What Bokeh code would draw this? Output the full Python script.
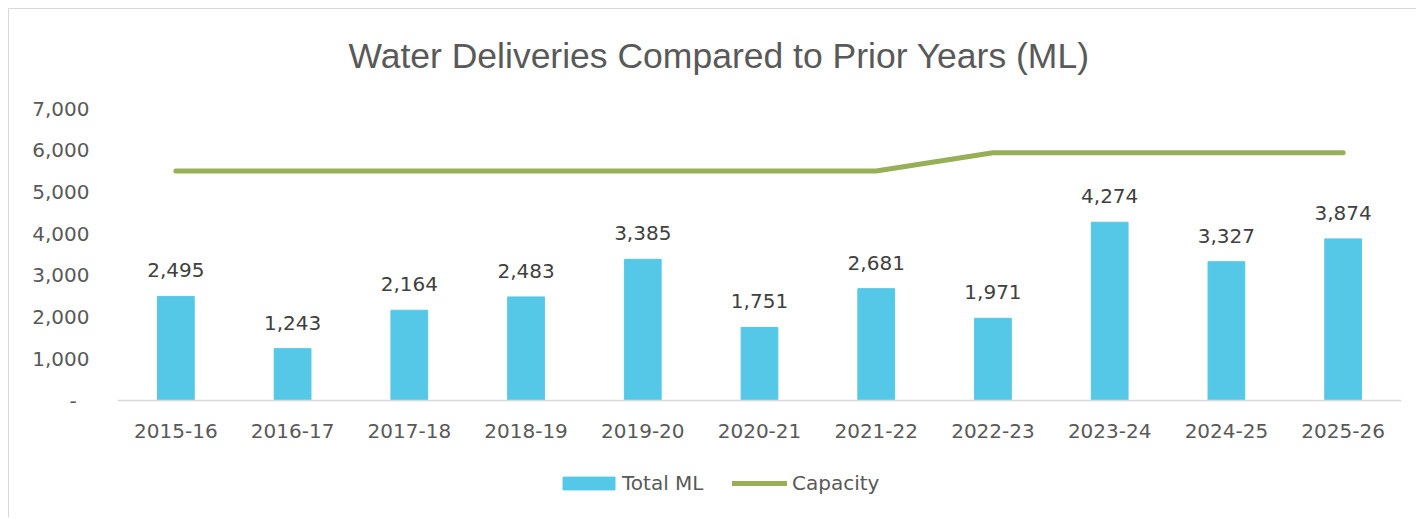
from bokeh.plotting import figure
from bokeh.models import (FactorRange, Range1d, FixedTicker, CustomJSTickFormatter,
                          Legend, LegendItem, Span)
from bokeh.core.properties import value
from bokeh.embed import file_html
from bokeh.resources import INLINE

years = ["2015-16", "2016-17", "2017-18", "2018-19", "2019-20", "2020-21",
         "2021-22", "2022-23", "2023-24", "2024-25", "2025-26"]
total_ml = [2495, 1243, 2164, 2483, 3385, 1751, 2681, 1971, 4274, 3327, 3874]
capacity = [5500, 5500, 5500, 5500, 5500, 5500, 5500, 5940, 5940, 5940, 5940]
total_labels = ["2,495", "1,243", "2,164", "2,483", "3,385", "1,751", "2,681",
                "1,971", "4,274", "3,327", "3,874"]
y_ticks = [0, 1000, 2000, 3000, 4000, 5000, 6000, 7000]

FONT = "DejaVu Sans"
TFONT = "Liberation Sans"
GREY = "#595959"

# frame spans from just below the title down to the legend row so that the
# legend can sit inside it; the value axis (0..7000) occupies the middle part
p = figure(x_range=FactorRange(*years, range_padding=0), y_range=Range1d(-2733, 7288),
           width=1408, height=509, output_backend="svg", toolbar_location=None,
           min_border_left=108, min_border_right=16, min_border_top=87,
           min_border_bottom=4,
           title="Water Deliveries Compared to Prior Years (ML)")

p.styles = {"margin-left": "8px", "margin-top": "8px",
            "border-left": "1px solid #d9d9d9", "border-top": "1px solid #d9d9d9"}
p.outline_line_color = None
p.background_fill_color = "white"
p.border_fill_color = "white"
p.xgrid.grid_line_color = None
p.ygrid.grid_line_color = None

p.title.text_font = TFONT
p.title.text_font_size = "35.5px"
p.title.text_font_style = "normal"
p.title.text_color = GREY
p.title.align = "left"
p.title.offset = 231
p.title.standoff = 42

bars = p.vbar(x=years, top=total_ml, bottom=0, width=0.315, color="#55C8E8")
line = p.line(x=years, y=capacity, line_width=5, color="#97AF56",
              line_cap="round", line_join="round")

# category axis (baseline line + labels) drawn at value 0
p.add_layout(Span(location=0, dimension="width", line_color="#d9d9d9", line_width=1.5))
p.text(x=years, y=0, text=years, text_align="center", text_baseline="alphabetic",
       y_offset=30, text_font=value(FONT), text_font_size="20px", text_color=GREY)

# data labels
p.text(x=years, y=total_ml, text=total_labels, text_align="center",
       text_baseline="alphabetic", y_offset=-26, text_font=value(FONT),
       text_font_size="20px", text_color="#404040")

p.xaxis.visible = False

p.yaxis.ticker = FixedTicker(ticks=y_ticks)
p.yaxis.formatter = CustomJSTickFormatter(
    code="return tick == 0 ? '-\\u00a0\\u00a0' : tick.toLocaleString('en-US');")
p.yaxis.axis_line_color = None
p.yaxis.major_tick_line_color = None
p.yaxis.minor_tick_line_color = None
p.yaxis.major_tick_out = 0
p.yaxis.major_label_standoff = 28
p.yaxis.major_label_text_font = FONT
p.yaxis.major_label_text_font_size = "20px"
p.yaxis.major_label_text_color = GREY

common = dict(orientation="horizontal", padding=0, margin=0, border_line_color=None,
              background_fill_alpha=0, label_text_font=FONT,
              label_text_font_size="20px", label_text_color=GREY)
legend_bar = Legend(items=[LegendItem(label="Total ML", renderers=[bars])],
                    location=(439, 19), glyph_width=65, glyph_height=16,
                    label_standoff=1, **common)
legend_line = Legend(items=[LegendItem(label="Capacity", renderers=[line])],
                     location=(615, 19), glyph_width=55, glyph_height=16,
                     label_standoff=5, **common)
p.add_layout(legend_bar, "center")
p.add_layout(legend_line, "center")

open("out.html", "w").write(file_html(p, INLINE))
